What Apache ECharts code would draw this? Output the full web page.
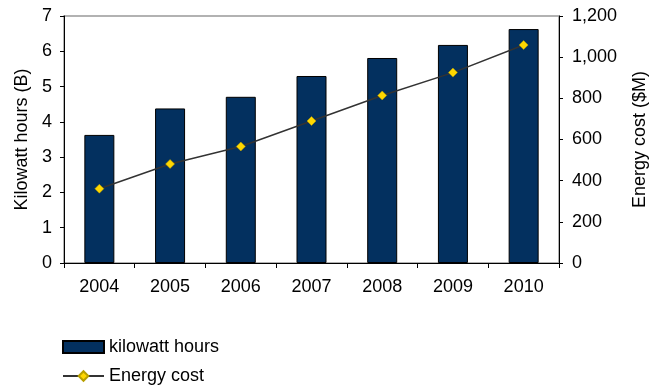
<!DOCTYPE html>
<html><head><meta charset="utf-8">
<script src="https://cdn.jsdelivr.net/npm/echarts@6/dist/echarts.min.js"></script>
<style>html,body{margin:0;padding:0;background:#fff}#c{width:657px;height:387px}</style>
</head><body><div id="c"></div>
<script>
var years = ['2004','2005','2006','2007','2008','2009','2010'];
var kwh = [3.63, 4.38, 4.71, 5.30, 5.81, 6.18, 6.63];
var cost = [361, 481, 566, 690, 814, 925, 1059];
var leftTicks = [0, 7, 1];
var rightTicks = [0, 1200, 200];
var font = 'Liberation Sans, Arial, sans-serif';
var legendText = {fontFamily: font, fontSize: 18, color: '#000'};
var chart = echarts.init(document.getElementById('c'));
chart.setOption({
  animation: false,
  textStyle: {fontFamily: font},
  grid: {left: 64, right: 88, top: 16, bottom: 124, show: true, borderColor: '#999', borderWidth: 1.5, backgroundColor: 'transparent'},
  legend: [{
    left: 57, top: 333, itemWidth: 41, itemHeight: 12, itemGap: 0,
    textStyle: legendText, data: [{name: 'kilowatt hours', icon: 'rect'}]
  }, {
    left: 57, top: 362, itemWidth: 41, itemHeight: 12, itemGap: 0,
    textStyle: legendText, data: [{name: 'Energy cost'}]
  }],
  xAxis: {
    type: 'category', data: years, boundaryGap: true,
    axisLine: {lineStyle: {color: '#000', width: 1}},
    axisTick: {show: true, length: 5, lineStyle: {color: '#000'}},
    axisLabel: {color: '#000', fontSize: 18, margin: 15, fontFamily: font}
  },
  yAxis: [{
    type: 'value', min: leftTicks[0], max: leftTicks[1], interval: leftTicks[2],
    name: 'Kilowatt hours (B)', nameLocation: 'middle', nameGap: 32, nameRotate: 90,
    nameTextStyle: {color: '#000', fontSize: 18, fontFamily: font},
    axisLine: {show: true, lineStyle: {color: '#000'}},
    axisTick: {show: true, length: 4, lineStyle: {color: '#000'}},
    splitLine: {show: false},
    axisLabel: {color: '#000', fontSize: 18, margin: 12, fontFamily: font}
  }, {
    type: 'value', min: rightTicks[0], max: rightTicks[1], interval: rightTicks[2],
    name: 'Energy cost ($M)', nameLocation: 'middle', nameGap: 72, nameRotate: 90,
    nameTextStyle: {color: '#000', fontSize: 18, fontFamily: font},
    position: 'right',
    axisLine: {show: true, lineStyle: {color: '#000'}},
    axisTick: {show: true, length: 4, lineStyle: {color: '#000'}},
    splitLine: {show: false},
    axisLabel: {color: '#000', fontSize: 18, margin: 13, fontFamily: font,
      formatter: function (v) { return v.toLocaleString('en-US'); }}
  }],
  series: [{
    name: 'kilowatt hours', type: 'bar', data: kwh, barWidth: 30, yAxisIndex: 0,
    itemStyle: {color: '#03305f', borderColor: '#000', borderWidth: 1}
  }, {
    name: 'Energy cost', type: 'line', data: cost, yAxisIndex: 1,
    symbol: 'diamond', symbolSize: 9,
    lineStyle: {color: '#333', width: 1.5},
    itemStyle: {color: '#ffd700', borderColor: '#b8a000', borderWidth: 0.5}
  }]
});
</script></body></html>
